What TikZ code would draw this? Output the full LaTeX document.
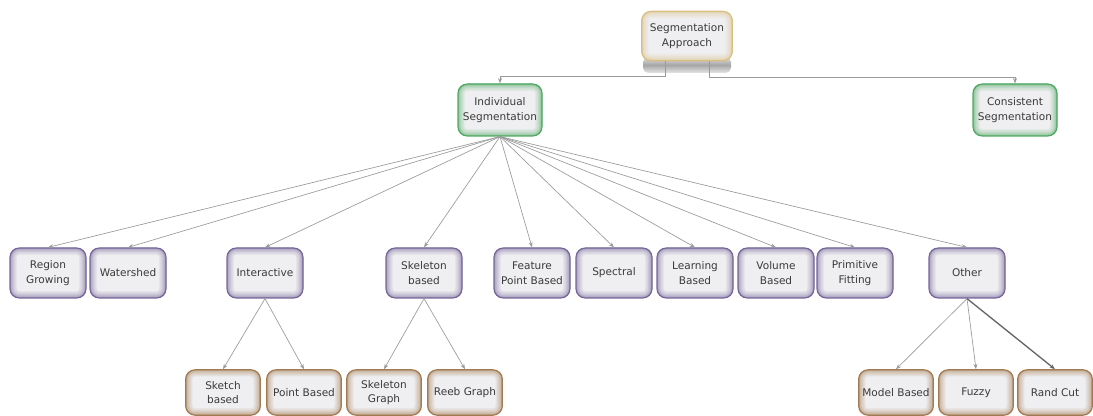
\documentclass[tikz,border=0pt]{standalone}
\usepackage{fontspec}
\setsansfont{DejaVu Sans}
\definecolor{segpurple}{HTML}{76669A}
\definecolor{segbrown}{HTML}{A27A52}
\definecolor{seggreen}{HTML}{4FA862}
\definecolor{segtan}{HTML}{D9BE84}
\definecolor{boxfill}{HTML}{EFEFF1}
\definecolor{textgray}{HTML}{3A3A3A}
\definecolor{linegray}{HTML}{9A9A9A}
\usetikzlibrary{arrows.meta,positioning}

\begin{document}
\begin{tikzpicture}[
  x=0.75pt, y=-0.75pt,
  box/.style={draw=#1, line width=0.9pt, fill=boxfill, rounded corners=7pt,
    minimum width=57pt, minimum height=37.5pt, inner sep=1pt,
    font=\fontsize{7.9}{11}\selectfont\sffamily, text=textgray, align=center,
    path picture={
      \foreach \w/\s in {10/12,8/20,6/30,4/42,2/58}
        \draw[#1!\s!boxfill, line width=\w pt, rounded corners=7pt]
          (path picture bounding box.south west) rectangle (path picture bounding box.north east);}},
  leaf/.style={box=segbrown, minimum width=56pt, minimum height=34pt},
  conn/.style={draw=linegray, line width=0.5pt, -{Stealth[length=4pt, width=3pt]}}
]
  \useasboundingbox (0,0) rectangle (1093,416);

  % Shadow under the root
  \shade[top color=gray!25, bottom color=gray!20, middle color=gray!70, rounded corners=4pt]
    (643,57) rectangle (731,73);

  % Root and first level
  \node[box=segtan, minimum width=68pt, minimum height=37pt] (root) at (687,36)
    {Segmentation\\Approach};
  \node[box=seggreen, minimum width=63pt, minimum height=39pt] (indiv) at (500,110)
    {Individual\\Segmentation};
  \node[box=seggreen, minimum width=63pt, minimum height=39pt] (consist) at (1015,110)
    {Consistent\\Segmentation};

  % Second level
  \node[box=segpurple] (regiongrow) at (48,273)  {Region\\Growing};
  \node[box=segpurple] (watershed)  at (128,273) {Watershed};
  \node[box=segpurple] (interactive) at (265,273) {Interactive};
  \node[box=segpurple] (skeleton)   at (424,273) {Skeleton\\based};
  \node[box=segpurple] (featpoint)  at (532,273) {Feature\\Point Based};
  \node[box=segpurple] (spectral)   at (614,273) {Spectral};
  \node[box=segpurple] (learning)   at (695,273) {Learning\\Based};
  \node[box=segpurple] (volume)     at (776,273) {Volume\\Based};
  \node[box=segpurple] (primitive)  at (855,273) {Primitive\\Fitting};
  \node[box=segpurple] (other)      at (967,273) {Other};

  % Third level
  \node[leaf] (sketch)    at (223,392.5)  {Sketch\\based};
  \node[leaf] (pointbased) at (304,392.5) {Point Based};
  \node[leaf] (skelgraph) at (384,392.5)  {Skeleton\\Graph};
  \node[leaf] (reeb)      at (465,392.5)  {Reeb Graph};
  \node[leaf] (model)     at (896,392.5)  {Model Based};
  \node[leaf] (fuzzy)     at (976,392.5)  {Fuzzy};
  \node[leaf] (randcut)   at (1055,392.5) {Rand Cut};

  % Connectors
  \draw[conn] ([xshift=-16.5pt]root.south) -- ++(0,15) -| (indiv.north);
  \draw[conn] ([xshift=16.5pt]root.south) -- ++(0,16) -| (consist.north);
  \foreach \n in {regiongrow,watershed,interactive,skeleton,featpoint,
                  spectral,learning,volume,primitive,other}
    \draw[conn] (indiv.south) -- (\n.north);
  \draw[conn] (interactive.south) -- (sketch.north);
  \draw[conn] (interactive.south) -- (pointbased.north);
  \draw[conn] (skeleton.south) -- (skelgraph.north);
  \draw[conn] (skeleton.south) -- (reeb.north);
  \draw[conn] (other.south) -- (model.north);
  \draw[conn] (other.south) -- (fuzzy.north);
  \draw[conn, line width=1pt, draw=gray!80!black] (other.south) -- (randcut.north);
\end{tikzpicture}
\end{document}
